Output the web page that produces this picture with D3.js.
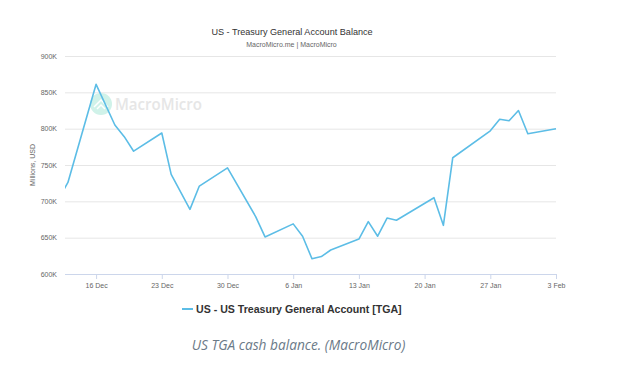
<!DOCTYPE html>
<html>
<head>
<meta charset="utf-8">
<script src="https://cdn.jsdelivr.net/npm/d3@7"></script>
<style>
html,body{margin:0;padding:0;background:#fff;}
svg{display:block;}
</style>
</head>
<body>
<svg id="chart" width="643" height="369"></svg>
<script>
// ---- data ----
const dates = ["2024-12-12","2024-12-13","2024-12-16","2024-12-18","2024-12-19","2024-12-20",
  "2024-12-23","2024-12-24","2024-12-26","2024-12-27","2024-12-30","2025-01-02","2025-01-03",
  "2025-01-06","2025-01-07","2025-01-08","2025-01-09","2025-01-10","2025-01-13","2025-01-14",
  "2025-01-15","2025-01-16","2025-01-17","2025-01-21","2025-01-22","2025-01-23","2025-01-27",
  "2025-01-28","2025-01-29","2025-01-30","2025-01-31","2025-02-03"];
const tgaValues = [703,726,861,805,789,769,794,737,689,721,746,679,651,669,652,621,624,633,648,672,
  652,677,674,705,667,760,797,813,811,825,793,800]; // thousands of millions USD
const yTicks = [600,650,700,750,800,850,900];
const xTickDates = ["2024-12-16","2024-12-23","2024-12-30","2025-01-06","2025-01-13","2025-01-20","2025-01-27","2025-02-03"];
const seriesName = "US - US Treasury General Account [TGA]";
const title = "US - Treasury General Account Balance";
const subtitle = "MacroMicro.me | MacroMicro";
const yAxisTitle = "Millions, USD";
const caption = "US TGA cash balance. (MacroMicro)";

(function(){
const svg = d3.select("#chart");
const mL = 65, mR = 556, mT = 56, mB = 274;
const parse = d3.utcParse("%Y-%m-%d");
const data = dates.map((d,i)=>({date:parse(d), v:tgaValues[i]}));

const x = d3.scaleUtc()
  .domain([new Date(Date.UTC(2024,11,12,16,30)), parse("2025-02-03")])
  .range([mL, mR]);
const y = d3.scaleLinear().domain([600,900]).range([mB, mT]);

const font = "'Liberation Sans', Arial, Helvetica, sans-serif";

svg.append("text").attr("x",292).attr("y",35).attr("text-anchor","middle")
  .attr("font-family",font).attr("font-size",9.1).attr("fill","#333").text(title);
svg.append("text").attr("x",291.5).attr("y",46.5).attr("text-anchor","middle")
  .attr("font-family",font).attr("font-size",7).attr("fill","#666").text(subtitle);

svg.append("g").selectAll("line").data(yTicks).join("line")
  .attr("x1",mL).attr("x2",mR)
  .attr("y1",d=>y(d)+0.5).attr("y2",d=>y(d)+0.5)
  .attr("stroke","#e6e6e6").attr("stroke-width",1);

svg.append("g").selectAll("text").data(yTicks).join("text")
  .attr("x",57).attr("y",d=>y(d)+2.5).attr("text-anchor","end")
  .attr("font-family",font).attr("font-size",7).attr("fill","#666")
  .text(d=>d+"K");

svg.append("text").attr("transform",`translate(35,${(mT+mB)/2}) rotate(-90)`)
  .attr("text-anchor","middle").attr("font-family",font).attr("font-size",7)
  .attr("fill","#666").text(yAxisTitle);

const xAxis = d3.axisBottom(x)
  .tickValues(xTickDates.map(parse))
  .tickFormat(d3.utcFormat("%-d %b"))
  .tickSize(5).tickPadding(4);
const gx = svg.append("g").attr("transform",`translate(0,${mB})`).call(xAxis);
gx.select(".domain").attr("stroke","#ccd6eb").attr("d",`M${mL},0.5H${mR}`);
gx.selectAll(".tick line").attr("stroke","#ccd6eb");
gx.selectAll(".tick text").attr("font-family",font).attr("font-size",7).attr("fill","#666");

const wm = svg.append("g");
wm.append("circle").attr("cx",101).attr("cy",104).attr("r",11).attr("fill","#d0f2e9");
wm.append("path").attr("d","M94,107 L101,100 L108,107 M97,109 L101,105 L105,109")
  .attr("fill","none").attr("stroke","#fff").attr("stroke-width",1.5);
wm.append("text").attr("x",115).attr("y",110).attr("font-family","'Open Sans', sans-serif")
  .attr("font-size",17).attr("font-weight",600).attr("fill","#e6e6e6")
  .attr("textLength",87).attr("lengthAdjust","spacingAndGlyphs").text("MacroMicro");

svg.append("clipPath").attr("id","clip").append("rect")
  .attr("x",mL).attr("y",0).attr("width",mR-mL+2).attr("height",369);
svg.append("path").datum(data)
  .attr("clip-path","url(#clip)")
  .attr("fill","none").attr("stroke","#5cbde6").attr("stroke-width",1.6)
  .attr("stroke-linejoin","round")
  .attr("d",d3.line().x(d=>x(d.date)).y(d=>y(d.v)));

svg.append("line").attr("x1",182).attr("x2",193).attr("y1",309).attr("y2",309)
  .attr("stroke","#5cbde6").attr("stroke-width",2);
svg.append("text").attr("x",196).attr("y",313).attr("font-family",font)
  .attr("font-size",10.6).attr("font-weight","bold").attr("fill","#333").text(seriesName);

svg.append("text").attr("x",298.5).attr("y",350).attr("text-anchor","middle")
  .attr("font-family","'Open Sans', sans-serif").attr("font-style","italic")
  .attr("font-size",13.7).attr("fill","#6b7a88").text(caption);
})();
</script>
</body>
</html>
